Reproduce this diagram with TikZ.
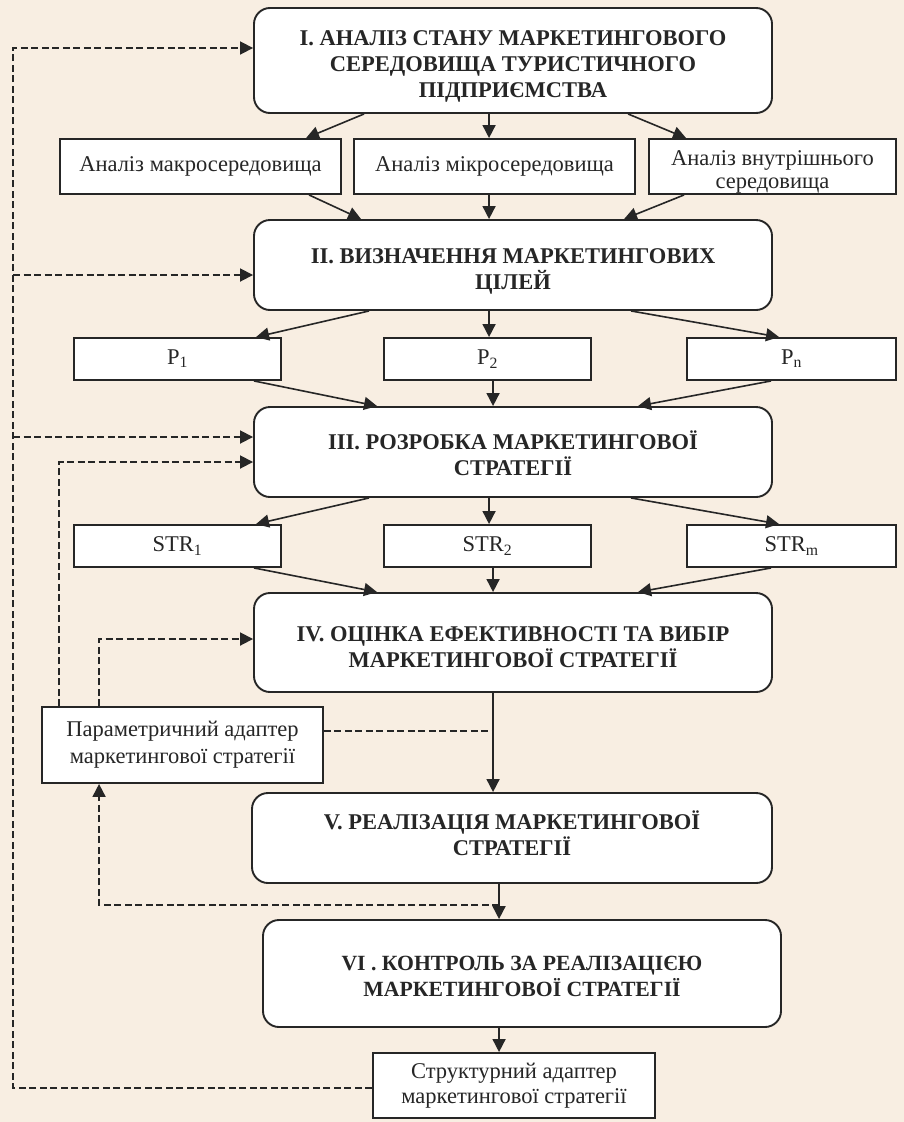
\documentclass[tikz,border=0pt]{standalone}
\usepackage{fontspec}
\setmainfont{Liberation Serif}
\usetikzlibrary{arrows.meta}
\definecolor{bg}{HTML}{F8EEE2}
\definecolor{ink}{HTML}{262626}
\begin{document}
\begin{tikzpicture}[x=1pt,y=-1pt,
  stage/.style={draw=ink,line width=1.9pt,fill=white,rounded corners=16pt,inner sep=0pt},
  ttl/.style={align=center,inner sep=0pt,font=\bfseries\fontsize{22.5}{26}\selectfont,text=ink},
  sbox/.style={draw=ink,line width=1.9pt,fill=white,align=center,inner sep=0pt,
    font=\fontsize{22.5}{24}\selectfont,text=ink},
  stxt/.style={align=center,inner sep=0pt,font=\fontsize{22.5}{23}\selectfont,text=ink},
  arr/.style={draw=ink,line width=1.6pt,-{Triangle[length=13pt,width=13pt]}},
  dln/.style={draw=ink,line width=1.8pt,dash pattern=on 7pt off 3.5pt},
  darr/.style={dln,-{Triangle[length=13pt,width=13pt]}}]
\fill[bg] (0,0) rectangle (904,1122);
\useasboundingbox (0,0) rectangle (904,1122);
% boxes
\node[stage,minimum width=518pt,minimum height=105pt] (b1) at (513,60.5) {};
\node[sbox,minimum width=281pt,minimum height=55pt] (a1) at (200.5,166.5) {Аналіз макросередовища};
\node[sbox,minimum width=281pt,minimum height=55pt] (a2) at (494.5,166.5) {Аналіз мікросередовища};
\node[sbox,minimum width=247pt,minimum height=55pt] (a3) at (772.5,166.5) {};
\node[stage,minimum width=518pt,minimum height=90pt] (b2) at (513,265) {};
\node[sbox,minimum width=207pt,minimum height=42pt] (p1) at (177.5,359) {P\textsubscript{1}};
\node[sbox,minimum width=207pt,minimum height=42pt] (p2) at (487.5,359) {P\textsubscript{2}};
\node[sbox,minimum width=209pt,minimum height=42pt] (pn) at (791.5,359) {P\textsubscript{n}};
\node[stage,minimum width=518pt,minimum height=90pt] (b3) at (513,452) {};
\node[sbox,minimum width=207pt,minimum height=42pt] (s1) at (177.5,546) {STR\textsubscript{1}};
\node[sbox,minimum width=207pt,minimum height=42pt] (s2) at (487.5,546) {STR\textsubscript{2}};
\node[sbox,minimum width=209pt,minimum height=42pt] (sm) at (791.5,546) {STR\textsubscript{m}};
\node[stage,minimum width=518pt,minimum height=99pt] (b4) at (513,642.5) {};
\node[sbox,minimum width=281pt,minimum height=76pt,font=\fontsize{22.5}{27}\selectfont] (pa) at (182.5,745)
  {Параметричний адаптер\\маркетингової стратегії};
\node[stage,minimum width=520pt,minimum height=90pt] (b5) at (512,838) {};
\node[stage,minimum width=518pt,minimum height=107pt] (b6) at (522,973.5) {};
\node[sbox,minimum width=282pt,minimum height=65pt,font=\fontsize{22.5}{25}\selectfont] (sa) at (514,1085.5)
  {Структурний адаптер\\маркетингової стратегії};
% texts of the stages
\node[ttl] (t1) at (513,66.5) {I. АНАЛІЗ СТАНУ МАРКЕТИНГОВОГО\\СЕРЕДОВИЩА ТУРИСТИЧНОГО\\ПІДПРИЄМСТВА};
\node[stxt] (t0) at (772.5,172) {Аналіз внутрішнього\\середовища};
\node[ttl] (t2) at (513,271.5) {II. ВИЗНАЧЕННЯ МАРКЕТИНГОВИХ\\ЦІЛЕЙ};
\node[ttl] (t3) at (513,453.5) {III. РОЗРОБКА МАРКЕТИНГОВОЇ\\СТРАТЕГІЇ};
\node[ttl] (t4) at (513,647) {IV. ОЦІНКА ЕФЕКТИВНОСТІ ТА ВИБІР\\МАРКЕТИНГОВОЇ СТРАТЕГІЇ};
\node[ttl] (t5) at (512,833) {V. РЕАЛІЗАЦІЯ МАРКЕТИНГОВОЇ\\СТРАТЕГІЇ};
\node[ttl,font=\bfseries\fontsize{21.7}{26}\selectfont] (t6) at (522,976)
  {VI . КОНТРОЛЬ ЗА РЕАЛІЗАЦІЄЮ\\МАРКЕТИНГОВОЇ СТРАТЕГІЇ};
% solid arrows
\draw[arr] ([xshift=111pt]b1.south west) -- ([xshift=247pt]a1.north west);
\draw[arr] ([xshift=236pt]b1.south west) -- ([xshift=136pt]a2.north west);
\draw[arr] ([xshift=375pt]b1.south west) -- ([xshift=38pt]a3.north west);
\draw[arr] ([xshift=250pt]a1.south west) -- ([xshift=108pt]b2.north west);
\draw[arr] ([xshift=136pt]a2.south west) -- ([xshift=236pt]b2.north west);
\draw[arr] ([xshift=36pt]a3.south west) -- ([xshift=371pt]b2.north west);
\draw[arr] ([xshift=116pt]b2.south west) -- ([xshift=183pt]p1.north west);
\draw[arr] ([xshift=236pt]b2.south west) -- ([xshift=106pt]p2.north west);
\draw[arr] ([xshift=378pt]b2.south west) -- ([xshift=93pt]pn.north west);
\draw[arr] ([xshift=181pt]p1.south west) -- ([xshift=124pt]b3.north west);
\draw[arr] ([xshift=110pt]p2.south west) -- ([xshift=240pt]b3.north west);
\draw[arr] ([xshift=85pt]pn.south west) -- ([xshift=385pt]b3.north west);
\draw[arr] ([xshift=116pt]b3.south west) -- ([xshift=183pt]s1.north west);
\draw[arr] ([xshift=236pt]b3.south west) -- ([xshift=106pt]s2.north west);
\draw[arr] ([xshift=378pt]b3.south west) -- ([xshift=93pt]sm.north west);
\draw[arr] ([xshift=181pt]s1.south west) -- ([xshift=124pt]b4.north west);
\draw[arr] ([xshift=110pt]s2.south west) -- ([xshift=240pt]b4.north west);
\draw[arr] ([xshift=85pt]sm.south west) -- ([xshift=385pt]b4.north west);
\draw[arr] ([xshift=240pt]b4.south west) coordinate (iv) -- ([xshift=242pt]b5.north west);
\draw[arr] ([xshift=248pt]b5.south west) coordinate (v) -- ([xshift=237pt]b6.north west);
\draw[arr] ([xshift=237pt]b6.south west) -- ([xshift=127pt]sa.north west);
% dashed feedback
\coordinate (c2) at (13,48);
\coordinate (j2) at (13,275);
\coordinate (j3) at (13,437);
\coordinate (k1) at (60,462);
\coordinate (k2) at (100,639);
\coordinate (m1) at (494,731);
\coordinate (m2) at (500,905);
\draw[darr] ([yshift=-2.5pt]sa.west) -| (c2) -- (c2 -| b1.west);
\draw[darr] (j2) -- (j2 -| b2.west);
\draw[darr] (j3) -- (j3 -| b3.west);
\draw[darr] ([xshift=18pt]pa.north west) |- (k1 -| b3.west);
\draw[darr] ([xshift=58pt]pa.north west) |- (k2 -| b4.west);
\draw[dln] ([yshift=14pt]pa.east) -- (m1 -| iv);
\draw[darr] (m2 -| v) -| ([xshift=58pt]pa.south west);
\end{tikzpicture}
\end{document}
